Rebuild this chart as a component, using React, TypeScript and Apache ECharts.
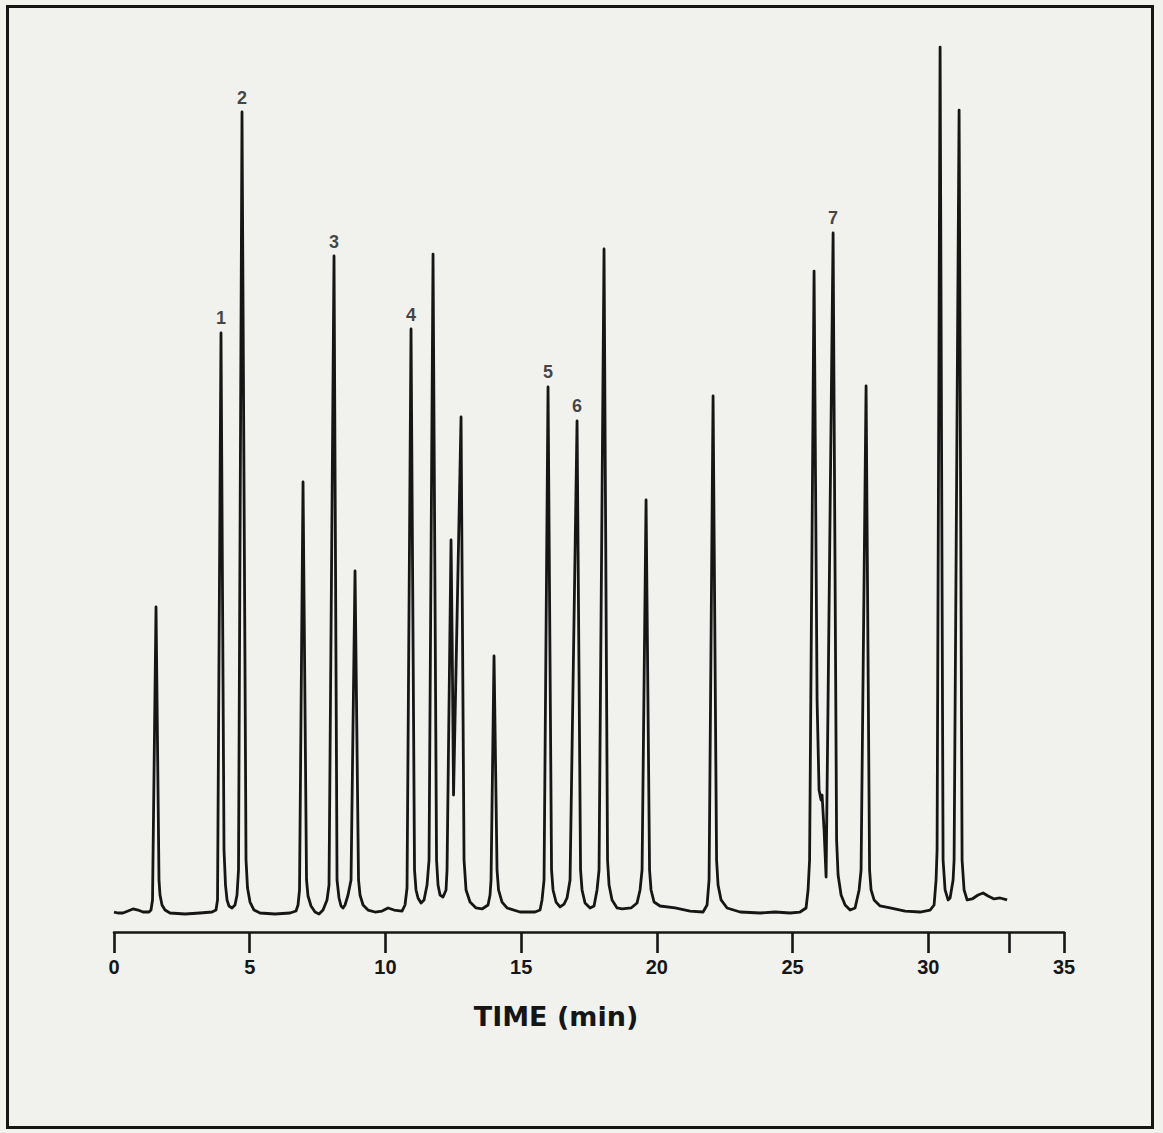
import React, { useEffect, useRef } from "react";
import * as echarts from "echarts";

// Chromatogram trace: [time (min), detector response (arbitrary units)]
const trace: [number, number][] = [
  [0, 0.22], [0.147, 0.11], [0.332, 0.11], [0.516, 0.33], [0.7, 0.56], [0.884, 0.44], [1.069, 0.22], [1.29, 0.22],
  [1.363, 0.44], [1.419, 1.56], [1.548, 34.11], [1.658, 3.78], [1.695, 2.11], [1.769, 1.0], [1.879, 0.44], [2.063, 0.11],
  [2.616, 0], [3.169, 0.11], [3.611, 0.22],
  [3.758, 0.44], [3.814, 1.56], [3.942, 64.56], [4.053, 7.11], [4.108, 3.22], [4.164, 1.56], [4.237, 0.89], [4.348, 0.67], [4.458, 1.0],
  [4.532, 2.11], [4.587, 4.89], [4.716, 89.11], [4.864, 6.0], [4.919, 2.89], [5.011, 1.33], [5.158, 0.44], [5.38, 0.11],
  [5.932, 0], [6.485, 0.11], [6.706, 0.33],
  [6.78, 1.0], [6.835, 2.67], [6.964, 48.0], [7.093, 3.78], [7.148, 2.0], [7.259, 0.89], [7.406, 0.22], [7.554, 0], [7.701, 0.44],
  [7.848, 1.56], [7.922, 3.22], [8.106, 73.11], [8.217, 3.78], [8.29, 1.78], [8.364, 0.89], [8.438, 0.67], [8.512, 1.0],
  [8.622, 2.11], [8.733, 3.78], [8.88, 38.11], [9.009, 3.78], [9.064, 2.11], [9.175, 1.0], [9.359, 0.44], [9.617, 0.22],
  [9.875, 0.33], [10.096, 0.67], [10.317, 0.44], [10.612, 0.33],
  [10.722, 1.0], [10.796, 2.89], [10.943, 65.0], [11.072, 4.89], [11.127, 2.67], [11.201, 1.78], [11.312, 1.22], [11.422, 1.56],
  [11.533, 3.22], [11.607, 6.0], [11.754, 73.33], [11.883, 6.0], [11.938, 3.22], [12.012, 2.11], [12.122, 1.89], [12.233, 2.67],
  [12.27, 4.89], [12.417, 41.56], [12.46, 30.0], [12.509, 13.22], [12.786, 55.22], [12.896, 6.0], [12.97, 2.67], [13.117, 1.33], [13.338, 0.67],
  [13.559, 0.56], [13.78, 1.0],
  [13.854, 2.11], [13.891, 3.78], [14.001, 28.67], [14.112, 4.89], [14.167, 2.67], [14.296, 1.33], [14.48, 0.67], [14.959, 0.22],
  [15.512, 0.22], [15.696, 0.44],
  [15.77, 1.56], [15.844, 3.78], [15.991, 58.56], [16.12, 4.89], [16.175, 2.67], [16.286, 1.33], [16.433, 0.78], [16.581, 1.11],
  [16.691, 1.78], [16.802, 3.78], [17.06, 54.78], [17.189, 4.89], [17.244, 2.67], [17.354, 1.22], [17.539, 0.67], [17.686, 0.89],
  [17.796, 2.67], [17.87, 4.89], [18.054, 73.89], [18.183, 6.0], [18.239, 3.22], [18.349, 1.56], [18.534, 0.67], [18.718, 0.56],
  [19.05, 0.67], [19.27, 1.22],
  [19.381, 2.67], [19.455, 4.89], [19.602, 46.0], [19.731, 4.89], [19.786, 2.67], [19.897, 1.33], [20.118, 0.89], [20.671, 0.67],
  [21.223, 0.33], [21.702, 0.22], [21.85, 1.0],
  [21.924, 3.78], [22.071, 57.56], [22.2, 6.0], [22.255, 3.22], [22.366, 1.56], [22.587, 0.67], [23.066, 0.22], [23.803, 0.11],
  [24.355, 0.22], [24.908, 0.11], [25.276, 0.22], [25.497, 0.67],
  [25.571, 2.67], [25.627, 6.0], [25.792, 71.44], [25.903, 23.78], [25.976, 13.78], [26.05, 12.67], [26.087, 13.22], [26.161, 9.33],
  [26.235, 4.11], [26.308, 23.78], [26.493, 75.67], [26.622, 8.22], [26.677, 4.33], [26.787, 2.11], [26.935, 1.0], [27.119, 0.44],
  [27.303, 0.67],
  [27.451, 2.67], [27.524, 4.89], [27.708, 58.67], [27.837, 4.89], [27.892, 2.67], [28.003, 1.56], [28.224, 0.89], [28.592, 0.67],
  [29.145, 0.33], [29.698, 0.22], [30.066, 0.44], [30.214, 1.0],
  [30.287, 3.78], [30.324, 7.11], [30.435, 96.33], [30.545, 6.0], [30.619, 2.67], [30.729, 1.56], [30.803, 1.78], [30.914, 3.78],
  [30.951, 6.0], [31.135, 89.33], [31.245, 6.0], [31.319, 2.67], [31.43, 1.56], [31.614, 1.67], [31.835, 2.11], [32.019, 2.33],
  [32.203, 2.0], [32.424, 1.67], [32.646, 1.78], [32.904, 1.56],
];

const peakNumbers = ["1", "2", "3", "4", "5", "6", "7"];
const peakApexTimes = [3.942, 4.716, 8.106, 10.943, 15.991, 17.06, 26.493];
const tickValues = [0, 5, 10, 15, 20, 25, 30, 33, 35];
const tickLabelValues = [0, 5, 10, 15, 20, 25, 30, 35];
const axisTitle = "TIME (min)";

const INK = "#161616";

export default function App() {
  const ref = useRef<HTMLDivElement>(null);
  useEffect(() => {
    const chart = echarts.init(ref.current!, null, { renderer: "svg" });
    const labelData = peakApexTimes.map((t, i) => {
      const p = trace.find((q) => q[0] === t)!;
      return { value: [t, p[1]], name: peakNumbers[i] };
    });
    chart.setOption({
      animation: false,
      backgroundColor: "#f1f1ee",
      grid: { left: 114, right: 99, top: 32, bottom: 201 },
      xAxis: {
        type: "value",
        min: 0,
        max: 35,
        interval: 5,
        axisLine: { show: true, onZero: false, lineStyle: { color: INK, width: 2.6 } },
        axisTick: { show: true, length: 21, customValues: tickValues, lineStyle: { color: INK, width: 2.6 } },
        axisLabel: {
          customValues: tickLabelValues,
          margin: 25,
          fontSize: 20,
          fontWeight: "bold",
          fontFamily: "Liberation Sans",
          color: INK,
        },
        splitLine: { show: false },
        name: axisTitle,
        nameLocation: "middle",
        nameGap: 71,
        nameTextStyle: {
          fontSize: 27,
          fontWeight: "bold",
          fontFamily: "DejaVu Sans",
          color: INK,
          padding: [0, 66, 0, 0],
        },
      },
      yAxis: { type: "value", min: -2, max: 98, show: false },
      series: [
        {
          type: "line",
          data: trace,
          showSymbol: false,
          symbol: "none",
          silent: true,
          lineStyle: { color: INK, width: 2.8, join: "round" },
        },
        {
          type: "scatter",
          data: labelData,
          symbolSize: 1,
          itemStyle: { color: "rgba(0,0,0,0)" },
          silent: true,
          label: {
            show: true,
            position: "top",
            distance: 5,
            formatter: "{b}",
            fontSize: 18,
            fontWeight: "bold",
            fontFamily: "Liberation Sans",
            color: INK,
          },
        },
      ],
      graphic: [
        {
          type: "rect",
          silent: true,
          shape: { x: 7.5, y: 6.5, width: 1145, height: 1121 },
          style: { fill: "none", stroke: INK, lineWidth: 3 },
        },
      ],
    });
    return () => chart.dispose();
  }, []);
  return (
    <div
      ref={ref}
      style={{ position: "absolute", left: 0, top: 0, width: 1163, height: 1133 }}
    />
  );
}
